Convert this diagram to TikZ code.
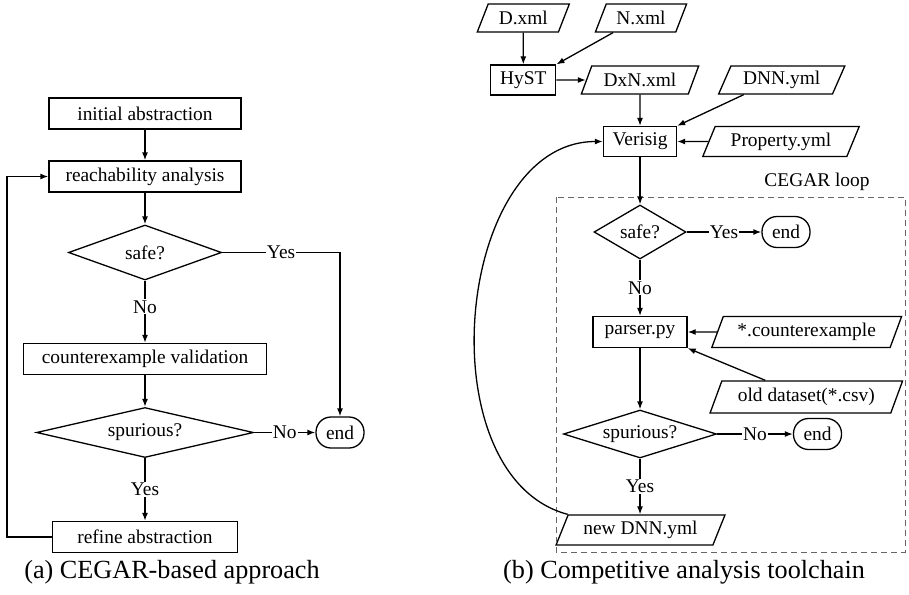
\documentclass[tikz,border=0pt]{standalone}
\usepackage{fontspec}
\setmainfont{Liberation Serif}
\usepackage{tikz}
\usetikzlibrary{arrows.meta,shapes.geometric}

\begin{document}
\begin{tikzpicture}[x=1pt,y=-1pt,line width=1.3pt,>={Latex[length=8pt,width=6pt]},
font=\fontsize{19.4}{23}\selectfont,
proc/.style={draw,rectangle,minimum height=31pt,inner xsep=8pt},
io/.style={draw,trapezium,trapezium left angle=68,trapezium right angle=112,trapezium stretches=true,minimum height=28pt,inner xsep=2pt},
decide/.style={draw,diamond,aspect=3,inner sep=0pt},
stopnode/.style={draw,rectangle,rounded corners=15pt,minimum width=48pt,minimum height=31pt,inner sep=0pt},
lbl/.style={fill=white,inner sep=1pt},
loopframe/.style={draw=black!60,line width=0.9pt,dash pattern=on 6pt off 4pt},
captxt/.style={font=\fontsize{26.2}{30}\selectfont}]
\useasboundingbox(0,0)rectangle(909,594);
% (a)
\node[proc,minimum width=192pt](init)at(145,113.5){initial abstraction};
\node[proc,minimum width=192pt](reach)at(145,176.5){reachability analysis};
\node[decide,minimum width=153pt,minimum height=55pt](safea)at(145,252.5){safe?};
\node[proc,minimum width=243pt](cex)at(145,359){counterexample validation};
\node[decide,minimum width=217pt,minimum height=50pt](spura)at(145,432.5){spurious?};
\node[proc,minimum width=185pt](refine)at(145,537){refine abstraction};
\node[stopnode](enda)at(340,432.5){end};
\draw[->](init)--(reach);
\draw[->](reach)--(safea);
\draw[->](safea)--node[lbl,pos=0.42]{No}(cex);
\draw[->](safea.east)--node[lbl]{Yes}(safea.east-|enda)--(enda);
\draw[->](cex)--(spura);
\draw[->](spura)--node[lbl]{No}(enda);
\draw[->](spura)--node[lbl]{Yes}(refine);
\draw[->](refine.west)--++(-45,0)|-(reach.west);
% (b)
\node[io,minimum width=92.6pt](dxml)at(523.3,18){D.xml};
\node[io,minimum width=91.7pt](nxml)at(641,18){N.xml};
\node[proc,minimum width=65pt,minimum height=30pt](hyst)at(523.3,80){HyST};
\node[io,minimum width=117.6pt](dxn)at(640,80){DxN.xml};
\node[io,minimum width=126.7pt](dnn)at(781.7,80){DNN.yml};
\node[proc,minimum width=73pt,minimum height=30pt](verisig)at(640,141.5){Verisig};
\node[io,minimum width=156.6pt,minimum height=30pt](prop)at(781,141.5){Property.yml};
\node[decide,minimum width=92pt,minimum height=54pt](safeb)at(640,232){safe?};
\node[stopnode](endb1)at(786,232){end};
\node[proc,minimum width=94pt](parser)at(640,332){parser.py};
\node[io,minimum width=190pt,minimum height=31pt](cexf)at(806.7,332){*.counterexample};
\node[io,minimum width=192.7pt,minimum height=32pt](olddata)at(806.3,397){old dataset(*.csv)};
\node[decide,minimum width=153pt,minimum height=48pt](spurb)at(640,434){spurious?};
\node[stopnode](endb2)at(817.5,434){end};
\node[io,minimum width=169pt,minimum height=30pt](newdnn)at(640.5,530){new DNN.yml};
\draw[loopframe](556,197)rectangle(905,552);
\node(looplbl)at(817,182){CEGAR loop};
\draw[->](dxml)--(hyst);
\draw[->]([xshift=-28pt]nxml.south)--(hyst.north east);
\draw[->](hyst)--(dxn);
\draw[->](dxn)--(verisig);
\draw[->]([xshift=-38pt]dnn.south)--(verisig.north east);
\draw[->](prop)--(verisig);
\draw[->](verisig)--(safeb);
\draw[->](safeb)--node[lbl]{Yes}(endb1);
\draw[->](safeb)--node[lbl]{No}(parser);
\draw[->](cexf)--(parser);
\draw[->]([xshift=-41pt]olddata.north)--(parser.south east);
\draw[->](parser)--(spurb);
\draw[->](spurb)--node[lbl]{No}(endb2);
\draw[->](spurb)--node[lbl]{Yes}(newdnn.north-|spurb);
\draw[->](newdnn.top left corner)..controls+(-143,-38)and+(-148,0)..(verisig.west);
\node[captxt](capa)at(172,572){(a) CEGAR-based approach};
\node[captxt](capb)at(684,572){(b) Competitive analysis toolchain};
\end{tikzpicture}
\end{document}
